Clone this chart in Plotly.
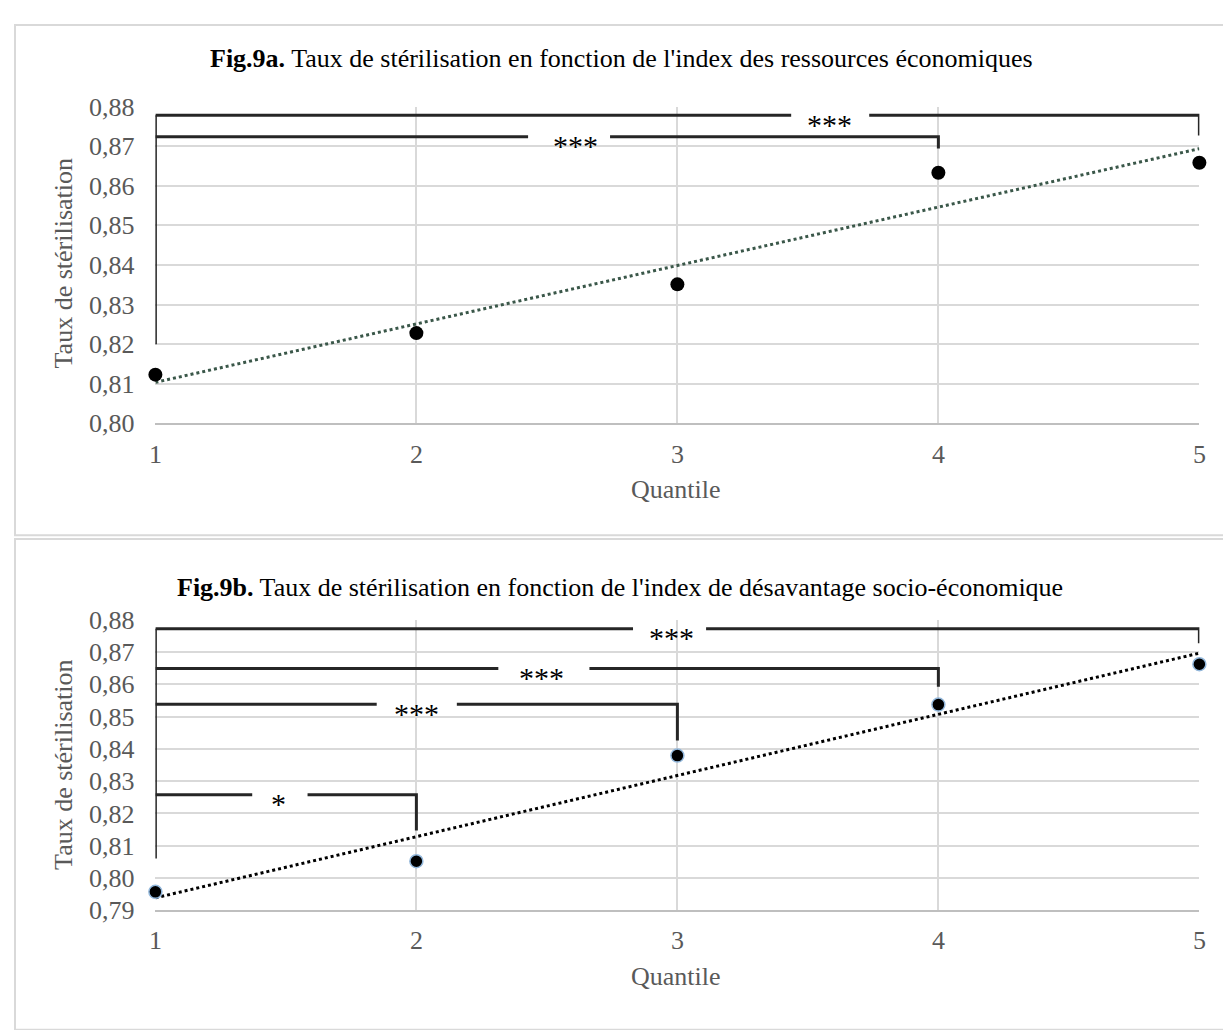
import numpy as np
import plotly.graph_objects as go

W, H = 1231, 1030
OFF = 8  # page body margin of the html page

# ---------------- data ----------------
quantiles = [1, 2, 3, 4, 5]
taux_9a = [0.8123, 0.8228, 0.8351, 0.8633, 0.8658]
taux_9b = [0.7957, 0.8052, 0.8379, 0.8537, 0.8662]
tick_labels_x = ["1", "2", "3", "4", "5"]

# significance brackets (Fig.9a)
brk_a_from = [1, 1]
brk_a_to = [5, 4]
brk_a_level = [0.8778, 0.8724]
brk_a_drop = [0.8727, 0.8694]
brk_a_label = ["***", "***"]
brk_a_labelx = [3.583, 2.61]
brk_a_gap0 = [3.436, 2.428]
brk_a_gap1 = [3.735, 2.742]
brk_a_left_bottom = 0.82

# significance brackets (Fig.9b)
brk_b_from = [1, 1, 1, 1]
brk_b_to = [5, 4, 3, 2]
brk_b_level = [0.8772, 0.8649, 0.8538, 0.8258]
brk_b_drop = [0.8727, 0.8592, 0.8426, 0.8147]
brk_b_label = ["***", "***", "***", "*"]
brk_b_labelx = [2.977, 2.48, 2.0, 1.473]
brk_b_gap0 = [2.83, 2.314, 1.848, 1.371]
brk_b_gap1 = [3.11, 2.663, 2.155, 1.583]
brk_b_left_bottom = 0.806

title_a = "<b>Fig.9a.</b> Taux de stérilisation en fonction de l'index des ressources économiques"
title_b = "<b>Fig.9b.</b> Taux de stérilisation en fonction de l'index de désavantage socio-économique"
ytitle = "Taux de stérilisation"
xtitle = "Quantile"

# ---------------- helpers ----------------
def px(x):
    return (x - OFF) / W

def py(y):
    return 1 - (y - OFF) / H

FONT = "Liberation Serif"
GRAY = "#595959"
GRID = "#D9D9D9"
LINE = "#262626"


def bracket_path(frm, to, lvl, drop, g0, g1, left_bottom):
    xs, ys = [], []
    for f, t, l, d, a, b in zip(frm, to, lvl, drop, g0, g1):
        xs += [f, a, None, b, t, t, None]
        ys += [l, l, None, l, l, d, None]
    top = max(lvl)
    xs += [frm[0], frm[0]]
    ys += [top, left_bottom]
    return xs, ys


fig = go.Figure()
trend_x = [quantiles[0], quantiles[-1]]

# ---- Fig 9a ----
slope_a, icpt_a = np.polyfit(quantiles, taux_9a, 1)
fig.add_trace(go.Scatter(
    x=trend_x, y=[icpt_a + slope_a * v for v in trend_x], mode="lines",
    line=dict(color="#3A5749", width=3, dash="dot"), xaxis="x", yaxis="y",
    showlegend=False, hoverinfo="skip", cliponaxis=False))
bx, by = bracket_path(brk_a_from, brk_a_to, brk_a_level, brk_a_drop,
                      brk_a_gap0, brk_a_gap1, brk_a_left_bottom)
fig.add_trace(go.Scatter(x=bx, y=by, mode="lines", line=dict(color=LINE, width=3),
                         xaxis="x", yaxis="y", showlegend=False, hoverinfo="skip",
                         cliponaxis=False))
fig.add_trace(go.Scatter(
    x=quantiles, y=taux_9a, mode="markers",
    marker=dict(color="black", size=14, line=dict(width=0)),
    xaxis="x", yaxis="y", showlegend=False, cliponaxis=False))

# ---- Fig 9b ----
slope_b, icpt_b = np.polyfit(quantiles, taux_9b, 1)
fig.add_trace(go.Scatter(
    x=trend_x, y=[icpt_b + slope_b * v for v in trend_x], mode="lines",
    line=dict(color="black", width=3, dash="dot"), xaxis="x2", yaxis="y2",
    showlegend=False, hoverinfo="skip", cliponaxis=False))
bx, by = bracket_path(brk_b_from, brk_b_to, brk_b_level, brk_b_drop,
                      brk_b_gap0, brk_b_gap1, brk_b_left_bottom)
fig.add_trace(go.Scatter(x=bx, y=by, mode="lines", line=dict(color=LINE, width=3),
                         xaxis="x2", yaxis="y2", showlegend=False, hoverinfo="skip",
                         cliponaxis=False))
fig.add_trace(go.Scatter(
    x=quantiles, y=taux_9b, mode="markers",
    marker=dict(color="black", size=13, line=dict(width=1.5, color="#93B8DC")),
    xaxis="x2", yaxis="y2", showlegend=False, cliponaxis=False))

# ---- annotations ----
ann = []
for lx, lv, lab in zip(brk_a_labelx, brk_a_level, brk_a_label):
    ann.append(dict(x=lx, y=lv, xref="x", yref="y", text=lab, showarrow=False,
                    font=dict(family=FONT, size=30, color="black"),
                    xanchor="center", yanchor="middle", yshift=-9))
for lx, lv, lab in zip(brk_b_labelx, brk_b_level, brk_b_label):
    ann.append(dict(x=lx, y=lv, xref="x2", yref="y2", text=lab, showarrow=False,
                    font=dict(family=FONT, size=30, color="black"),
                    xanchor="center", yanchor="middle", yshift=-9))

ann.append(dict(x=px(203), y=py(46), xref="paper", yref="paper", text=title_a,
                showarrow=False, font=dict(family=FONT, size=26, color="black"),
                xanchor="left", yanchor="middle"))
ann.append(dict(x=px(170), y=py(590), xref="paper", yref="paper", text=title_b,
                showarrow=False, font=dict(family=FONT, size=26, color="black"),
                xanchor="left", yanchor="middle"))
for yc in [256, 772]:
    ann.append(dict(x=px(57), y=py(yc), xref="paper", yref="paper", text=ytitle,
                    showarrow=False, textangle=-90,
                    font=dict(family=FONT, size=26, color=GRAY),
                    xanchor="center", yanchor="middle"))
for yc in [489, 990]:
    ann.append(dict(x=px(677), y=py(yc), xref="paper", yref="paper", text=xtitle,
                    showarrow=False, font=dict(family=FONT, size=26, color=GRAY),
                    xanchor="center", yanchor="middle"))

shapes = [
    dict(type="rect", xref="paper", yref="paper", x0=px(8), x1=px(1245),
         y0=py(536), y1=py(11), line=dict(color="#D9D9D9", width=2), layer="below"),
    dict(type="rect", xref="paper", yref="paper", x0=px(8), x1=px(1245),
         y0=py(1045), y1=py(540), line=dict(color="#D9D9D9", width=2), layer="below"),
]

xaxis_common = dict(
    range=[1, 5], tickvals=quantiles, ticktext=tick_labels_x,
    showgrid=True, gridcolor=GRID, gridwidth=1.5, zeroline=False,
    showline=True, linecolor="#BFBFBF", linewidth=2, mirror=False,
    ticks="", ticklabelstandoff=6,
    tickfont=dict(family=FONT, size=26, color=GRAY), fixedrange=True)
yaxis_common = dict(
    showgrid=True, gridcolor=GRID, gridwidth=1.5, zeroline=False,
    showline=False, ticks="", tickformat=".2f", dtick=0.01,
    ticklabelstandoff=20,
    tickfont=dict(family=FONT, size=26, color=GRAY), fixedrange=True)

fig.update_layout(
    width=W, height=H, margin=dict(l=0, r=0, t=0, b=0),
    paper_bgcolor="white", plot_bgcolor="white",
    separators=", ",
    xaxis=dict(**xaxis_common, domain=[px(150), px(1206)], anchor="y"),
    yaxis=dict(**yaxis_common, domain=[py(421), py(95)], range=[0.80, 0.88],
               anchor="x"),
    xaxis2=dict(**xaxis_common, domain=[px(150), px(1206)], anchor="y2"),
    yaxis2=dict(**yaxis_common, domain=[py(922), py(623)], range=[0.79, 0.88],
                anchor="x2"),
    annotations=ann, shapes=shapes, showlegend=False,
)

fig.write_html("out.html")
